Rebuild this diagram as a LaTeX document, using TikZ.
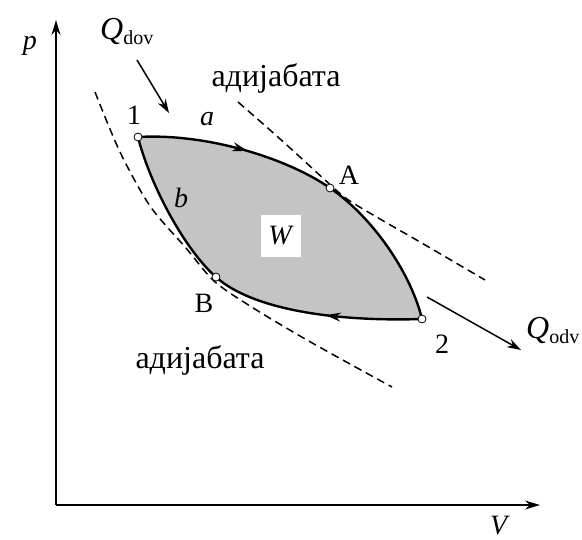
\documentclass[tikz,border=0pt]{standalone}
\usepackage{fontspec}
\setmainfont{Liberation Serif}
\usetikzlibrary{arrows.meta,decorations.markings}
\definecolor{cyclefill}{RGB}{196,196,196}
\tikzset{
  lbl/.style={inner sep=0pt,font=\fontsize{28}{32}\selectfont},
  cyr/.style={inner sep=0pt,font=\fontsize{32}{36}\selectfont},
  state/.style={circle,draw=black,fill=white,line width=0.8pt,minimum size=8pt,inner sep=0pt},
  adiabat/.style={dash pattern=on 8pt off 5pt,line width=1.5pt},
  proc/.style={line width=2.4pt},
  heat/.style={line width=1.5pt,-{Stealth[length=14pt,width=9pt]}},
  axis/.style={line width=1.4pt,-{Stealth[length=15pt,width=9pt]}},
  midarrow/.style={postaction={decorate},decoration={markings,mark=at position #1 with {\arrow{Stealth[length=15pt,width=9pt]}}}}
}
\begin{document}
\begin{tikzpicture}[x=1pt,y=-1pt]
\useasboundingbox (0,0) rectangle (582,540);
% axes
\coordinate (O) at (56,505);
\coordinate (ytop) at (56,20);
\coordinate (xend) at (540,505);
\draw[axis] (O) -- (ytop);
\draw[axis] (O) -- (xend);
\node[lbl] (p) at (30,46) {\textit{p}};
\node[lbl] (V) at (500,526) {\textit{V}};
% states
\coordinate (s1) at (138,137);
\coordinate (sA) at (330,188);
\coordinate (s2) at (422,319);
\coordinate (sB) at (216,277);
% cycle fill
\fill[cyclefill] (s1) .. controls (210,133) and (290,160) .. (sA)
  .. controls (370,215) and (410,270) .. (s2)
  .. controls (330,322) and (250,308) .. (sB)
  .. controls (185,250) and (150,185) .. (s1) -- cycle;
% adiabats
\draw[adiabat] plot[smooth] coordinates {(95,92) (120,152) (150,206) (186,248) (214,281) (250,306) (300,336) (350,364) (392,387)};
\draw[adiabat] plot[smooth] coordinates {(238,102) (270,130) (300,157) (325,180) (347,199) (380,219) (420,242) (485,280)};
% processes
\draw[proc,midarrow=0.55] (s1) .. controls (210,133) and (290,160) .. (sA);
\draw[proc] (sA) .. controls (370,215) and (410,270) .. (s2);
\draw[proc,midarrow=0.45] (s2) .. controls (330,322) and (250,308) .. (sB);
\draw[proc] (sB) .. controls (185,250) and (150,185) .. (s1);
% state markers
\node[state] (n1) at (s1) {};
\node[state] (nA) at (sA) {};
\node[state] (n2) at (s2) {};
\node[state] (nB) at (sB) {};
% labels
\node[lbl] (l1) at (134,115) {1};
\node[lbl] (la) at (207,119) {\textit{a}};
\node[lbl] (lA) at (349,175) {A};
\node[lbl] (lb) at (181,198) {\textit{b}};
\node[lbl] (lB) at (204,303) {B};
\node[lbl] (l2) at (442,344) {2};
\node[lbl,fill=white,minimum width=40pt,minimum height=42pt] (W) at (281,236) {\textit{W}};
\node[cyr] (ad1) at (276,78) {адијабата};
\node[cyr] (ad2) at (200,360) {адијабата};
% heat
\node[lbl,anchor=west,font=\fontsize{32}{36}\selectfont] (Qdov) at (100,32) {\textit{Q}\raisebox{-0.3ex}{\fontsize{20}{22}\selectfont dov}};
\node[lbl,anchor=west,font=\fontsize{32}{36}\selectfont] (Qodv) at (526,331) {\textit{Q}\raisebox{-0.3ex}{\fontsize{20}{22}\selectfont odv}};
\coordinate (qin0) at (137,60);
\coordinate (qin1) at (169,113);
\coordinate (qout0) at (427,297);
\coordinate (qout1) at (521,350);
\draw[heat] (qin0) -- (qin1);
\draw[heat] (qout0) -- (qout1);
\end{tikzpicture}
\end{document}
